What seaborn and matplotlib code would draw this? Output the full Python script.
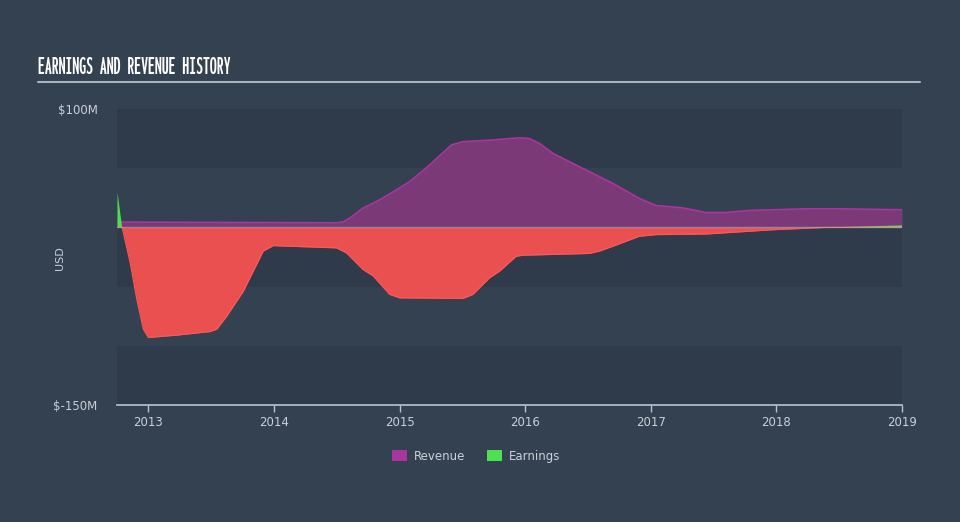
import numpy as np
import pandas as pd
import matplotlib
matplotlib.use("Agg")
import matplotlib.pyplot as plt
import matplotlib.font_manager as fm
from matplotlib.textpath import TextPath
import seaborn as sns
from matplotlib.patches import Patch

# ---- data (USD millions) ----
earn_years = [2012.754, 2012.791, 2012.855, 2012.908, 2012.960, 2013.0, 2013.226, 2013.490,
              2013.544, 2013.623, 2013.755, 2013.914, 2013.994, 2014.498, 2014.577, 2014.709,
              2014.789, 2014.921, 2015.0, 2015.504, 2015.583, 2015.716, 2015.795, 2015.928,
              2015.981, 2016.511, 2016.591, 2016.696, 2016.908, 2017.041, 2017.439, 2017.966,
              2018.393, 2019.0]
earnings = [29.4, 0.0, -30, -61, -86, -93, -91, -88,
            -86, -75, -54, -20, -15.4, -17.3, -21.6, -35.6,
            -41, -56.6, -59.5, -60, -56.6, -42.6, -37, -24.4,
            -23.5, -22, -20, -16, -7.5, -6.1, -5.6, -2,
            0.0, 1.7]

rev_years = [2012.754, 2014.498, 2014.55, 2014.603, 2014.709, 2014.843, 2014.975, 2015.081,
             2015.240, 2015.412, 2015.504, 2015.742, 2015.954, 2016.033, 2016.113, 2016.219,
             2016.431, 2016.696, 2016.908, 2017.041, 2017.253, 2017.439, 2017.598, 2017.783,
             2018.234, 2018.498, 2019.0]
revenue = [4.5, 3.9, 4.6, 7.8, 16.3, 23.3, 31.7, 38.7,
           52.8, 69.6, 72.4, 73.8, 75.7, 75.1, 71, 62.6,
           51.3, 37.3, 24.5, 18.5, 16.5, 12.6, 12.6, 14.3,
           15.7, 15.7, 14.9]

year_ticks = [2013, 2014, 2015, 2016, 2017, 2018, 2019]
y_ticks = [100, -150]
y_tick_labels = ["$100M", "$-150M"]
legend_labels = ["Revenue", "Earnings"]
TITLE = "EARNINGS AND REVENUE HISTORY"

# ---- style ----
BG = "#344151"
BAND = "#2f3b4a"
REV_FILL = "#7b3a77"
REV_LINE = "#a8369c"
EARN_NEG = "#eb5050"
EARN_NEG_LINE = "#ff5858"
EARN_POS = "#4fe04f"
TXT = "#c9d0d8"

sns.set_theme(style="dark")
plt.rcParams["font.family"] = ["DejaVu Sans"]


def _wnum(w):
    if isinstance(w, str):
        return {"bold": 700, "semibold": 600, "demibold": 600, "heavy": 800,
                "black": 900, "normal": 400, "regular": 400, "medium": 500,
                "light": 300}.get(w.lower(), 400)
    return w


def pick_title_font(target_px=192):
    best = None
    for f in fm.fontManager.ttflist:
        if _wnum(f.weight) < 600:
            continue
        if "Oblique" in f.fname or "Italic" in f.fname:
            continue
        if not f.fname.lower().endswith((".ttf", ".otf")):
            continue
        try:
            fp = fm.FontProperties(fname=f.fname, size=10)
            ext = TextPath((0, 0), TITLE, prop=fp).get_extents()
            capp = TextPath((0, 0), "E", prop=fp).get_extents()
            ratio = ext.width / max(capp.height, 1e-6)
        except Exception:
            continue
        if best is None or ratio < best[0]:
            best = (ratio, f.fname, ext.width)
    if best is None:
        return fm.FontProperties(family="DejaVu Sans", weight="bold", size=9)
    size = 10 * (target_px * 0.72) / best[2]
    return fm.FontProperties(fname=best[1], size=size)


fig = plt.figure(figsize=(9.6, 5.22), dpi=100, facecolor=BG)
ax = fig.add_axes([117/960, 1 - 405/522, (902-117)/960, (405-109)/522])
ax.set_facecolor(BG)

for lo, hi in [(50, 100), (-50, 0), (-150, -100)]:
    ax.axhspan(lo, hi, color=BAND, zorder=0, lw=0)

rdf = pd.DataFrame({"year": rev_years, "value": revenue})
edf = pd.DataFrame({"year": earn_years, "value": earnings})

ax.fill_between(rdf["year"], 0, rdf["value"], color=REV_FILL, lw=0, zorder=2)
sns.lineplot(data=rdf, x="year", y="value", ax=ax, color=REV_LINE, lw=1.2, zorder=3)

e = np.array(earnings, dtype=float)
ax.fill_between(edf["year"], 0, e, where=e <= 0, interpolate=True, color=EARN_NEG, lw=0, zorder=4)
ax.fill_between(edf["year"], 0, e, where=e >= 0, interpolate=True, color=EARN_POS, lw=0, zorder=4)
sns.lineplot(x=edf["year"], y=np.minimum(e, 0), ax=ax, color=EARN_NEG_LINE, lw=0.8, zorder=5)

ax.axhline(0, color="#b4bcc6", lw=1.0, alpha=0.55, zorder=6)

ax.set_xlim(2012.75, 2019.0)
ax.set_ylim(-150, 100)
ax.set_xticks(year_ticks)
ax.set_xticklabels([str(y) for y in year_ticks])
ax.set_yticks(y_ticks)
ax.set_yticklabels(y_tick_labels)
ax.set_xlabel("")
ax.set_ylabel("")
ax.grid(False)
for s in ["top", "right", "left"]:
    ax.spines[s].set_visible(False)
ax.spines["bottom"].set_color("#b8c4d2")
ax.spines["bottom"].set_linewidth(1.2)
ax.tick_params(axis="x", colors="#b8c4d2", length=5, width=1, direction="out",
               labelcolor=TXT, labelsize=8.5, pad=3, bottom=True)
ax.tick_params(axis="y", length=0, labelcolor=TXT, labelsize=8.5, pad=14, left=False)

fig.text(60/960, 1 - 258/522, "USD", rotation=90, color=TXT, fontsize=8,
         ha="center", va="center")

fig.text(38/960, 1 - 68/522, TITLE, color="white",
         fontproperties=pick_title_font(), ha="left", va="center")
fig.add_artist(plt.Line2D([38/960, 920/960], [1 - 82/522, 1 - 82/522],
                          color="#aab2bc", lw=1.5, transform=fig.transFigure))

handles = [Patch(facecolor=REV_LINE, edgecolor="none"),
           Patch(facecolor=EARN_POS, edgecolor="none")]
fig.legend(handles, legend_labels, loc="center", bbox_to_anchor=(476/960, 1 - 456/522),
           ncol=2, frameon=False, fontsize=8.5, labelcolor=TXT, handlelength=1.3,
           handleheight=1.0, columnspacing=1.8, handletextpad=0.6)

fig.savefig("out.png", dpi=100, facecolor=BG)
